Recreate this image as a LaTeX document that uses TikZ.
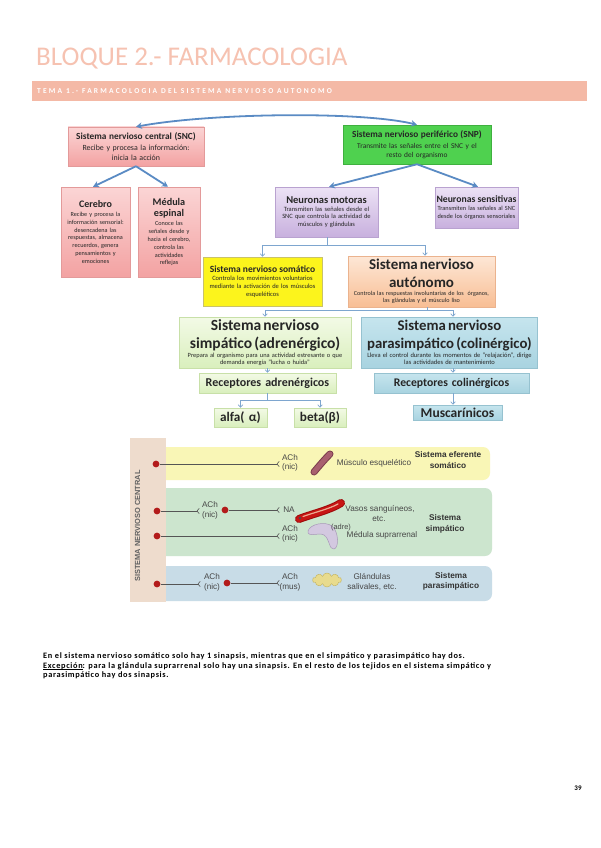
\documentclass[tikz,border=0pt]{standalone}
\usepackage{fontspec}
\setmainfont{Carlito}
\newfontfamily\arialf{Liberation Sans}
\newfontfamily\bandf[LetterSpace=29]{Carlito}
\newfontfamily\bodyf[LetterSpace=8]{Carlito}
\usetikzlibrary{arrows.meta,shapes.symbols,calc}
\newcommand\fsz[2]{\fontsize{#1}{#2}\selectfont}
\newcommand\bt[3]{{\fsz{#1}{#2}\bfseries #3\par}}
\newcommand\myul[1]{\setbox0\hbox{#1}\rlap{\rule[-1.4pt]{\wd0}{0.5pt}}\box0}
\definecolor{titlec}{HTML}{F6C2B1}
\definecolor{bandc}{HTML}{F4B9A6}
\definecolor{arrc}{HTML}{5A8BC4}
\definecolor{thinc}{HTML}{7EA6CF}
\definecolor{pinkT}{HTML}{FBD5D5}
\definecolor{pinkB}{HTML}{F3A2A2}
\definecolor{pinkD}{HTML}{E39A9A}
\definecolor{snpc}{HTML}{4FD14F}
\definecolor{snpd}{HTML}{3FB03F}
\definecolor{lavT}{HTML}{ECE2F5}
\definecolor{lavB}{HTML}{C8B0DE}
\definecolor{lavD}{HTML}{B9A2D0}
\definecolor{yelc}{HTML}{FCF41C}
\definecolor{yeld}{HTML}{C9C26A}
\definecolor{peaT}{HTML}{FDE7D6}
\definecolor{peaB}{HTML}{F8BE94}
\definecolor{peaD}{HTML}{EBB38E}
\definecolor{grT}{HTML}{F3FAE6}
\definecolor{grB}{HTML}{D9EFBD}
\definecolor{grD}{HTML}{C8E0A8}
\definecolor{blT}{HTML}{C6E5EE}
\definecolor{blB}{HTML}{A8D3E0}
\definecolor{blD}{HTML}{96C2D0}
\definecolor{cnsc}{HTML}{EEDCCD}
\definecolor{ybandc}{HTML}{F9F6B6}
\definecolor{gbandc}{HTML}{CCE5CE}
\definecolor{bbandc}{HTML}{C8DCE7}
\definecolor{dotc}{HTML}{B31B1B}
\definecolor{nlinec}{HTML}{555555}
\definecolor{muscD}{HTML}{7B3D4D}
\definecolor{muscc}{HTML}{A8606F}
\definecolor{vessD}{HTML}{9E0A0A}
\definecolor{vessc}{HTML}{C81414}
\definecolor{vessS}{HTML}{EBA890}
\definecolor{adrc}{HTML}{D3C8E0}
\definecolor{adrD}{HTML}{A898B8}
\definecolor{glc}{HTML}{E8DB8E}
\definecolor{glD}{HTML}{C4B25A}
\begin{document}
\begin{tikzpicture}[x=1pt,y=-1pt,
  bx/.style={align=center, inner sep=1pt, text=black!85, line width=0.5pt},
  sz/.style n args={3}{minimum width=#1, minimum height=#2, text width=#3},
  pinkbox/.style={bx, draw=pinkD, top color=pinkT, bottom color=pinkB},
  snpbox/.style={bx, draw=snpd, fill=snpc},
  lavbox/.style={bx, draw=lavD, top color=lavT, bottom color=lavB},
  yelbox/.style={bx, draw=yeld, fill=yelc},
  peabox/.style={bx, draw=peaD, top color=peaT, bottom color=peaB},
  grbox/.style={bx, draw=grD, top color=grT, bottom color=grB},
  blbox/.style={bx, draw=blD, top color=blT, bottom color=blB},
  bigarr/.style={draw=arrc, line width=1.8pt, -{Stealth[length=6pt,width=6.5pt]}},
  thinln/.style={draw=thinc, line width=0.7pt},
  thinarr/.style={thinln, -{Straight Barb[length=2.5pt,width=4.5pt]}},
  ntext/.style={font=\arialf\fsz{8.2}{9}, text=black!72, inner sep=0pt},
  nbold/.style={font=\arialf\bfseries\fsz{8.3}{9}, text=black!80, inner sep=0pt},
  nline/.style={draw=nlinec, line width=0.6pt},
  ndot/.style={circle, fill=dotc, inner sep=0pt, minimum size=6.8pt},
  fork/.pic={\draw[nline] (0,0) -- (2.2pt,-2.6pt) (0,0) -- (2.2pt,2.6pt);}
]
\useasboundingbox (0,0) rectangle (600,848);
\fill[white] (0,0) rectangle (600,848);

% header
\node[anchor=base west, inner sep=0pt, text=titlec, font=\fsz{27}{30}] (title) at (36,66) {BLOQUE 2.- FARMACOLOGIA};
\node[fill=bandc, minimum width=555pt, minimum height=20pt, anchor=north west, inner sep=0pt] (band) at (32,81) {};
\node[anchor=west, inner sep=0pt, text=white, font=\bandf\bfseries\fsz{7.5}{8}] (bandt) at (37,91.5) {TEMA 1.- FARMACOLOGIA DEL SISTEMA NERVIOSO AUTONOMO};

% boxes
\node[pinkbox, sz={136pt}{39pt}{132pt}, font=\fsz{7.9}{9.3}] (SNC) at (136,146.5)
  {\bt{9.3}{11}{Sistema nervioso central (SNC)}\vspace{2pt}Recibe y procesa la información:\\inicia la acción};
\node[snpbox, sz={148pt}{39pt}{144pt}, font=\fsz{7.4}{9}] (SNP) at (417,144.5)
  {\bt{9.3}{11}{Sistema nervioso periférico (SNP)}\vspace{2pt}Transmite las señales entre el SNC y el\\resto del organismo};
\node[pinkbox, sz={69pt}{90pt}{67pt}, font=\fsz{6.2}{7.9}] (Cer) at (95.5,232)
  {\bt{10}{11}{Cerebro}\vspace{1pt}Recibe y procesa la\\información sensorial:\\desencadena las\\respuestas, almacena\\recuerdos, genera\\pensamientos y\\emociones};
\node[pinkbox, sz={62pt}{90pt}{60pt}, font=\fsz{6.2}{7.9}] (Med) at (169,232)
  {\bt{10.2}{11}{Médula\\espinal}\vspace{1.5pt}Conoce las\\señales desde y\\hacia el cerebro,\\controla las\\actividades\\reflejas};
\node[lavbox, sz={103pt}{50pt}{101pt}, font=\fsz{6.5}{7.4}] (Mot) at (326.5,212)
  {\bt{10.5}{11}{Neuronas motoras}\vspace{0.5pt}Transmiten las señales desde el\\SNC que controla la actividad de\\músculos y glándulas};
\node[lavbox, sz={83pt}{41pt}{81pt}, font=\fsz{6.3}{7.5}] (Sen) at (476.5,207.5)
  {\bt{9.7}{11}{Neuronas sensitivas}\vspace{0.5pt}Transmiten las señales al SNC\\desde los órganos sensoriales};
\node[yelbox, sz={119pt}{49pt}{117pt}, font=\fsz{6.5}{8}] (Som) at (262.5,281.5)
  {\bt{9.5}{11}{Sistema nervioso somático}\vspace{0.5pt}Controla los movimientos voluntarios\\mediante la activación de los músculos\\esqueléticos};
\node[peabox, sz={147pt}{51pt}{145pt}, font=\fsz{6.1}{7}] (Aut) at (421.5,281.5)
  {\bt{15}{18}{Sistema nervioso\\autónomo}\vspace{1pt}Controla las respuestas involuntarias de los \ órganos,\\las glándulas y el músculo liso};
\node[grbox, sz={172pt}{51pt}{170pt}, font=\fsz{6.4}{6.9}] (Sim) at (265,342.5)
  {\bt{15.5}{18}{Sistema nervioso\\simpático (adrenérgico)}\vspace{0.5pt}Prepara al organismo para una actividad estresante o que\\demanda energía "lucha o huida"};
\node[blbox, sz={175pt}{51pt}{174pt}, font=\fsz{6.5}{6.9}] (Par) at (449.5,342.5)
  {\bt{14.8}{18}{Sistema nervioso\\parasimpático (colinérgico)}\vspace{0.5pt}Lleva el control durante los momentos de "relajación", dirige\\las actividades de mantenimiento};
\node[grbox, sz={137pt}{20pt}{135pt}, inner sep=0pt, font=\fsz{12}{13}\bfseries] (RAd) at (267.5,383) {Receptores adrenérgicos};
\node[blbox, sz={155pt}{20pt}{153pt}, inner sep=0pt, font=\fsz{11.7}{13}\bfseries] (RCo) at (451.5,383) {Receptores colinérgicos};
\node[grbox, sz={53pt}{19pt}{51pt}, inner sep=0pt, font=\fsz{13.2}{14}\bfseries] (alfa) at (240.5,417.5) {alfa( α)};
\node[grbox, sz={52pt}{19pt}{50pt}, inner sep=0pt, font=\fsz{13.2}{14}\bfseries] (beta) at (320,417.5) {beta(β)};
\node[blbox, sz={89pt}{15pt}{87pt}, inner sep=0pt, font=\fsz{13.5}{14}\bfseries] (Mus) at (457.5,412.5) {Muscarínicos};

% big arrows
\draw[bigarr, {Stealth[length=6pt,width=6.5pt]}-{Stealth[length=6pt,width=6.5pt]}] (SNC.north) .. controls (210,113) and (360,111) .. (SNP.north);
\draw[bigarr] (SNC.south) -- (Cer.north -| 93,0);
\draw[bigarr] (SNC.south) -- (Med.north -| 168,0);
\draw[bigarr] (SNP.south) -- (Mot.north -| 329,0);
\draw[bigarr] (SNP.south) -- (Sen.north -| 478,0);

% thin connectors
\coordinate (j1) at (327,245);
\draw[thinln] (Mot.south -| j1) -- (j1);
\draw[thinarr] (j1) -| (Som.north);
\draw[thinarr] (j1) -| (Aut.north -| 425,0);
\coordinate (j2) at (427,310);
\draw[thinln] (Aut.south -| j2) -- (j2);
\draw[thinarr] (j2) -| (Sim.north);
\draw[thinarr] (j2) -| (Par.north -| 453,0);
\draw[thinarr] (Sim.south -| RAd.north) -- (RAd.north);
\draw[thinarr] (Par.south -| 453,0) -- (RCo.north -| 453,0);
\coordinate (j3) at (267,400);
\draw[thinln] (RAd.south -| j3) -- (j3);
\draw[thinarr] (j3) -| (alfa.north);
\draw[thinarr] (j3) -| (beta.north);
\draw[thinarr] (RCo.south -| 453,0) -- (Mus.north -| 453,0);

% neuron figure: bands
\fill[ybandc, rounded corners=7pt] (150,447) rectangle (490,480);
\fill[gbandc, rounded corners=7pt] (150,488) rectangle (492,556);
\fill[bbandc, rounded corners=7pt] (150,566) rectangle (492,601);
\fill[cnsc] (130,438) rectangle (166,602);
\node[rotate=90, font=\arialf\bfseries\fsz{7.4}{8}, text=black!62, inner sep=0pt] (cnst) at (137.5,526) {SISTEMA NERVIOSO CENTRAL};

% neurons
\node[ndot] (d1) at (156,464) {};
\coordinate (e1) at (277,464);
\draw[nline] (d1) -- (e1); \pic at (e1) {fork};
\node[ndot] (d2) at (157,511) {};
\coordinate (e2) at (197,511);
\draw[nline] (d2) -- (e2); \pic at (e2) {fork};
\node[ndot] (d3) at (225,510) {};
\coordinate (e3) at (277,510);
\draw[nline] (d3) -- (e3); \pic at (e3) {fork};
\node[ndot] (d4) at (157,536) {};
\coordinate (e4) at (277,536);
\draw[nline] (d4) -- (e4); \pic at (e4) {fork};
\node[ndot] (d5) at (157,584) {};
\coordinate (e5) at (198,584);
\draw[nline] (d5) -- (e5); \pic at (e5) {fork};
\node[ndot] (d6) at (227,583) {};
\coordinate (e6) at (277,583);
\draw[nline] (d6) -- (e6); \pic at (e6) {fork};

% organs
\draw[muscD, line width=7pt, line cap=round] (314,472) .. controls (319,466) and (325,459) .. (330,454);
\draw[muscc, line width=5pt, line cap=round] (314,472) .. controls (319,466) and (325,459) .. (330,454);
\draw[vessD, line width=8pt, line cap=round] (299,519) .. controls (312,514) and (330,510) .. (341,503);
\draw[vessc, line width=6pt, line cap=round] (299,519) .. controls (312,514) and (330,510) .. (341,503);
\draw[vessS, line width=1.2pt, line cap=round] (303,516.5) .. controls (314,512.5) and (329,509) .. (338,504);
\fill[black!70] (300,518) circle (1.4);
\filldraw[fill=adrc, draw=adrD, line width=0.5pt] (308,531) .. controls (310,524) and (325,521) .. (332,526) .. controls (339,532) and (339,548) .. (334,549) .. controls (329,550) and (330,539) .. (324,535) .. controls (319,532) and (307,538) .. (308,531) -- cycle;
\node[cloud, cloud puffs=10, aspect=2.2, minimum width=29pt, minimum height=14pt, draw=glD, fill=glc, line width=0.4pt, inner sep=0pt] (gland) at (327,580) {};

% neuron texts
\node[ntext] (t1a) at (290,458) {ACh};
\node[ntext] (t1b) at (290,467.5) {(nic)};
\node[ntext] (t1c) at (374,463) {Músculo esquelético};
\node[nbold] (t1d) at (448,455) {Sistema eferente};
\node[nbold] (t1e) at (448,465.5) {somático};
\node[ntext] (t2a) at (210,505) {ACh};
\node[ntext] (t2b) at (210,515) {(nic)};
\node[ntext] (t2c) at (289,510) {NA};
\node[ntext] (t2d) at (380,509) {Vasos sanguíneos,};
\node[ntext] (t2e) at (379,519) {etc.};
\node[ntext] (t3a) at (290,529) {ACh};
\node[ntext] (t3b) at (290,538.5) {(nic)};
\node[ntext, font=\arialf\fsz{7.4}{8}] (t3c) at (341,528) {(adre)};
\node[ntext] (t3d) at (382,535) {Médula suprarrenal};
\node[nbold] (t3e) at (445,518) {Sistema};
\node[nbold] (t3f) at (445,529) {simpático};
\node[ntext] (t4a) at (212,577) {ACh};
\node[ntext] (t4b) at (212,587) {(nic)};
\node[ntext] (t4c) at (290,577) {ACh};
\node[ntext] (t4d) at (290,587) {(mus)};
\node[ntext] (t4e) at (372,577) {Glándulas};
\node[ntext] (t4f) at (372,587) {salivales, etc.};
\node[nbold] (t4g) at (451,576) {Sistema};
\node[nbold] (t4h) at (451,586) {parasimpático};

% bottom text
\node[anchor=base west, inner sep=0pt, font=\bodyf\fsz{8.3}{10}\bfseries] (p1) at (43,658) {En el sistema nervioso somático solo hay 1 sinapsis, mientras que en el simpático y parasimpático hay dos.};
\node[anchor=base west, inner sep=0pt, font=\bodyf\fsz{8.3}{10}\bfseries] (p2) at (43,668) {\myul{Excepción}: para la glándula suprarrenal solo hay una sinapsis. En el resto de los tejidos en el sistema simpático y};
\node[anchor=base west, inner sep=0pt, font=\bodyf\fsz{8.3}{10}\bfseries] (p3) at (43,677.5) {parasimpático hay dos sinapsis.};
\node[anchor=base, inner sep=0pt, font=\fsz{7}{8}\bfseries] (pg) at (578,790) {39};
\end{tikzpicture}
\end{document}
